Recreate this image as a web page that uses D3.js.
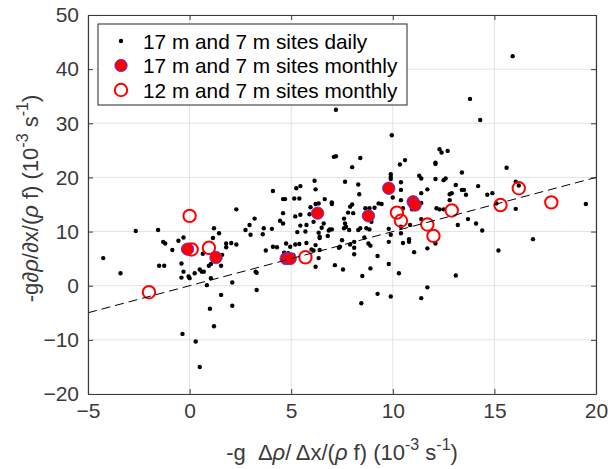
<!DOCTYPE html>
<html>
<head>
<meta charset="utf-8">
<script src="https://cdn.jsdelivr.net/npm/d3@7"></script>
<style>
	body { margin: 0; background: #fff; }
	text { font-family: "Liberation Sans", Arial, sans-serif; }
</style>
</head>
<body>
<div class="chart"></div>
<script>
// daily points, 17 m and 7 m sites
var dailyX = [-4.25, -3.4, -2.65, -1.55, -1.3, -1.2, -1.5, -1.25, -0.85, -0.55, -0.3, -0.4, -0.3, -0.4, -0.05, 0.0, 0.25, 0.5, 0.6, 0.7, 0.85, 1.05, 0.95, 1.05, 0.65, 1.15, 1.2, 1.45, 1.55, 1.6, 1.8, 1.8, 2.1, 2.05, 2.3, 2.3, 1.55, 2.1, 1.0, 1.2, -0.35, 0.3, 0.5,
	3.25, 3.3, 3.3, 2.75, 2.95, 3.2, 3.0, 3.6, 3.65, 3.75, 4.05, 4.1, 4.45, 4.6, 4.7, 4.6, 4.6, 4.1, 4.3, 4.65, 4.85, 4.75, 4.95, 5.15, 5.2, 5.25, 5.45, 5.4, 5.3, 5.45, 5.45, 5.2, 5.4, 5.75, 5.75, 5.95, 6.15, 6.2, 6.2, 6.35, 6.2, 6.1, 6.2, 6.35, 6.4, 6.35, 6.6, 5.7, 5.9, 6.1, 6.0, 5.1,
	6.65, 6.85, 6.5, 6.8, 6.9, 7.0, 6.4, 6.4, 7.0, 7.0, 7.15, 7.55, 7.4, 7.5, 7.6, 7.7, 7.65, 7.6, 7.8, 8.05, 8.0, 7.9, 7.85, 7.9, 8.1, 7.35, 8.1, 8.5, 8.9, 9.25, 9.8, 8.9, 8.8, 8.6, 8.1, 8.4, 8.3, 8.7, 8.85, 8.95, 8.65, 8.85, 9.1, 9.3, 9.45, 7.65, 8.3, 8.35, 8.0, 7.1, 7.2, 8.4, 7.2, 9.9, 9.9, 9.9, 9.95, 9.8, 9.9, 9.8, 8.45, 9.25, 9.9,
	10.35, 10.6, 10.4, 10.4, 10.4, 10.0, 10.5, 10.95, 11.4, 11.3, 11.4, 11.7, 11.4, 12.1, 12.6, 12.5, 12.3, 12.4, 12.7, 12.1, 12.1, 13.1, 13.4, 13.4, 13.5, 13.6, 12.8, 12.9, 14.2, 14.65, 14.9, 13.8, 14.3, 12.8, 12.15, 12.3, 12.5, 13.7, 14.1, 13.2, 11.4, 10.85, 10.4, 10.4, 10.5, 10.8, 10.8, 11.05, 11.7, 12.1, 10.3, 11.7, 13.1, 14.4, 11.4,
	15.6, 15.9, 16.05, 16.2, 15.1, 16.05, 19.5, 16.9, 15.2];
var dailyY = [5.1, 2.3, 10.1, 10.3, 8.1, 7.8, 3.7, 3.7, 6.6, 8.3, 8.9, 4.1, 2.6, 1.5, 1.7, 1.4, 2.3, 3.0, 2.6, 2.6, 0.1, 1.4, 3.7, 4.0, 5.9, 8.8, 10.6, 9.7, 3.7, 5.7, 7.8, 7.1, 0.6, 7.9, 7.6, 14.1, -1.7, -3.7, -4.25, -7.5, -8.9, -10.3, -15.0,
	2.6, 2.4, -0.8, 10.3, 11.2, 12.4, 9.4, 9.5, 10.6, 6.5, 10.5, 17.5, 12.0, 16.0, 16.0, 13.4, 11.5, 7.2, 7.1, 6.1, 6.0, 7.8, 7.2, 16.1, 12.8, 18.0, 18.4, 16.1, 9.9, 11.1, 13.1, 7.6, 7.7, 11.2, 7.9, 14.5, 19.4, 17.8, 15.1, 15.2, 7.5, 6.5, 3.5, 9.8, 9.05, 5.1, 11.5, 10.0, 13.2, 11.8, 6.7, 5.7,
	16.0, 10.2, 10.7, 9.2, 10.4, 10.4, 8.8, 6.6, 15.4, 15.1, 3.8, 3.0, 7.2, 8.4, 10.6, 10.9, 11.5, 12.4, 13.5, 13.4, 15.0, 14.6, 10.3, 7.6, 7.0, 7.0, 5.8, 1.8, 3.2, 5.5, 4.0, 7.4, 7.8, 8.9, 8.1, 10.6, 10.3, 10.6, 10.4, 11.8, 14.3, 14.3, 14.4, 15.2, 15.1, 19.2, 18.7, 16.9, 21.9, 23.8, 23.9, 23.6, 32.5, 20.6, 20.1, 19.7, 27.8, 10.5, 9.4, 8.1, -3.25, -1.5, -2.0,
	22.4, 23.2, 19.1, 17.7, 15.8, 16.3, 14.3, 14.1, 15.3, 20.3, 19.8, 17.8, 17.1, 19.7, 19.8, 19.5, 25.2, 24.6, 24.9, 22.7, 22.5, 18.6, 20.9, 17.7, 17.7, 16.8, 16.9, 17.1, 18.4, 16.8, 17.1, 34.5, 30.6, 15.8, 14.3, 14.1, 14.1, 12.3, 11.5, 11.2, 12.3, 11.2, 10.9, 9.7, 7.9, 8.6, 8.1, 6.2, 6.9, 7.8, 2.3, -0.3, 1.9, 10.2, -2.3,
	21.8, 42.4, 19.2, 18.5, 15.2, 14.2, 15.1, 8.6, 6.5];

// monthly means, 17 m and 7 m sites
var m17X = [-0.1, 1.3, 4.75, 4.95, 6.3, 9.8, 8.8, 11.0, 11.1];
var m17Y = [6.75, 5.2, 5.0, 5.0, 13.4, 18.0, 12.9, 15.5, 14.9];

// monthly means, 12 m and 7 m sites
var m12X = [-2.0, 0.0, 0.1, 0.95, 5.7, 10.2, 10.4, 11.7, 12.0, 12.9, 15.3, 16.2, 17.8];
var m12Y = [-1.2, 12.9, 6.7, 7.0, 5.25, 13.5, 12.0, 11.3, 9.2, 13.9, 14.9, 18.0, 15.4];

var lineX = [-5, 20];
var lineY = [-5, 20];

var xTicks = [-5, 0, 5, 10, 15, 20];
var yTicks = [-20, -10, 0, 10, 20, 30, 40, 50];
var legendLabels = ["17 m and 7 m sites daily", "17 m and 7 m sites monthly", "12 m and 7 m sites monthly"];

(function () {
	var W = 608, H = 469;
	var m = { left: 88, top: 15, right: 12, bottom: 75 };
	var w = W - m.left - m.right, h = H - m.top - m.bottom;
	var axisCol = "#3a3a3a";

	var svg = d3.select(".chart").append("svg")
		.attr("width", W).attr("height", H);

	var x = d3.scaleLinear().domain([-5, 20]).range([0, w]);
	var y = d3.scaleLinear().domain([-20, 50]).range([h, 0]);

	var g = svg.append("g").attr("transform", "translate(" + m.left + "," + m.top + ")");

	// grid
	g.append("g").selectAll("line").data(xTicks).enter().append("line")
		.attr("x1", x).attr("x2", x).attr("y1", 0).attr("y2", h)
		.attr("stroke", "#e3e3e3").attr("stroke-width", 1);
	g.append("g").selectAll("line").data(yTicks).enter().append("line")
		.attr("y1", y).attr("y2", y).attr("x1", 0).attr("x2", w)
		.attr("stroke", "#e3e3e3").attr("stroke-width", 1);

	// daily dots
	g.append("g").selectAll("circle").data(dailyX).enter().append("circle")
		.attr("cx", function (d) { return x(d); })
		.attr("cy", function (d, i) { return y(dailyY[i]); })
		.attr("r", 2.2).attr("fill", "#000");

	// monthly 17 m
	g.append("g").selectAll("circle").data(m17X).enter().append("circle")
		.attr("cx", function (d) { return x(d); })
		.attr("cy", function (d, i) { return y(m17Y[i]); })
		.attr("r", 6.2).attr("fill", "#ff0000")
		.attr("stroke", "#4a3aff").attr("stroke-width", 0.9);

	// monthly 12 m
	g.append("g").selectAll("circle").data(m12X).enter().append("circle")
		.attr("cx", function (d) { return x(d); })
		.attr("cy", function (d, i) { return y(m12Y[i]); })
		.attr("r", 6.2).attr("fill", "none")
		.attr("stroke", "#ff0000").attr("stroke-width", 2);

	// 1:1 line
	g.append("line")
		.attr("x1", x(lineX[0])).attr("y1", y(lineY[0]))
		.attr("x2", x(lineX[1])).attr("y2", y(lineY[1]))
		.attr("stroke", "#000").attr("stroke-width", 1)
		.attr("stroke-dasharray", "9,5");

	// axes (ticks inside, box on)
	function styleAxis(sel) {
		sel.select(".domain").attr("stroke", axisCol).attr("stroke-width", 1.2);
		sel.selectAll(".tick line").attr("stroke", axisCol).attr("stroke-width", 1);
		sel.selectAll("text").attr("fill", axisCol).style("font-size", "21px")
			.style("font-family", "'Liberation Sans', Arial, sans-serif");
	}
	g.append("g").attr("transform", "translate(0," + h + ")")
		.call(d3.axisBottom(x).tickValues(xTicks).tickSizeInner(-5).tickSizeOuter(0).tickPadding(9))
		.call(styleAxis);
	g.append("g")
		.call(d3.axisLeft(y).tickValues(yTicks).tickSizeInner(-5).tickSizeOuter(0).tickPadding(9))
		.call(styleAxis);
	g.append("g")
		.call(d3.axisTop(x).tickValues(xTicks).tickSizeInner(-5).tickSizeOuter(0).tickFormat(""))
		.call(styleAxis);
	g.append("g").attr("transform", "translate(" + w + ",0)")
		.call(d3.axisRight(y).tickValues(yTicks).tickSizeInner(-5).tickSizeOuter(0).tickFormat(""))
		.call(styleAxis);

	// legend
	var lg = g.append("g").attr("transform", "translate(10,9)");
	lg.append("rect").attr("width", 309).attr("height", 81)
		.attr("fill", "#fff").attr("stroke", "#262626").attr("stroke-width", 1);
	var rows = lg.selectAll("g.row").data(legendLabels).enter().append("g")
		.attr("class", "row")
		.attr("transform", function (d, i) { return "translate(0," + (17 + i * 24.5) + ")"; });
	rows.append("text").attr("x", 45).attr("dy", "0.36em")
		.style("font-size", "20.8px").attr("fill", "#000")
		.text(function (d) { return d; });
	rows.filter(function (d, i) { return i === 0; }).append("circle")
		.attr("cx", 23).attr("r", 2.2).attr("fill", "#000");
	rows.filter(function (d, i) { return i === 1; }).append("circle")
		.attr("cx", 23).attr("r", 6.2).attr("fill", "#ff0000")
		.attr("stroke", "#4a3aff").attr("stroke-width", 0.9);
	rows.filter(function (d, i) { return i === 2; }).append("circle")
		.attr("cx", 23).attr("r", 6.2).attr("fill", "none")
		.attr("stroke", "#ff0000").attr("stroke-width", 2);

	// axis labels
	var xl = svg.append("text")
		.attr("x", m.left + w / 2).attr("y", 460)
		.attr("text-anchor", "middle").attr("fill", axisCol)
		.style("font-size", "22px");
	xl.append("tspan").text("-g\u00a0 \u0394");
	xl.append("tspan").style("font-style", "italic").text("\u03C1");
	xl.append("tspan").text("/\u2009\u0394x/(");
	xl.append("tspan").style("font-style", "italic").text("\u03C1");
	xl.append("tspan").text(" f) (10");
	xl.append("tspan").attr("dy", -10).style("font-size", "16px").text("-3");
	xl.append("tspan").attr("dy", 10).text(" s");
	xl.append("tspan").attr("dy", -10).style("font-size", "16px").text("-1");
	xl.append("tspan").attr("dy", 10).text(")");

	var yl = svg.append("text")
		.attr("transform", "translate(38," + (m.top + h / 2 - 6) + ") rotate(-90)")
		.attr("text-anchor", "middle").attr("fill", axisCol)
		.style("font-size", "22px");
	yl.append("tspan").text("-g\u2202");
	yl.append("tspan").style("font-style", "italic").text("\u03C1");
	yl.append("tspan").text("/\u2202x/(");
	yl.append("tspan").style("font-style", "italic").text("\u03C1");
	yl.append("tspan").text(" f) (10");
	yl.append("tspan").attr("dy", -10).style("font-size", "16px").text("-3");
	yl.append("tspan").attr("dy", 10).text(" s");
	yl.append("tspan").attr("dy", -10).style("font-size", "16px").text("-1");
	yl.append("tspan").attr("dy", 10).text(")");
})();
</script>
</body>
</html>
